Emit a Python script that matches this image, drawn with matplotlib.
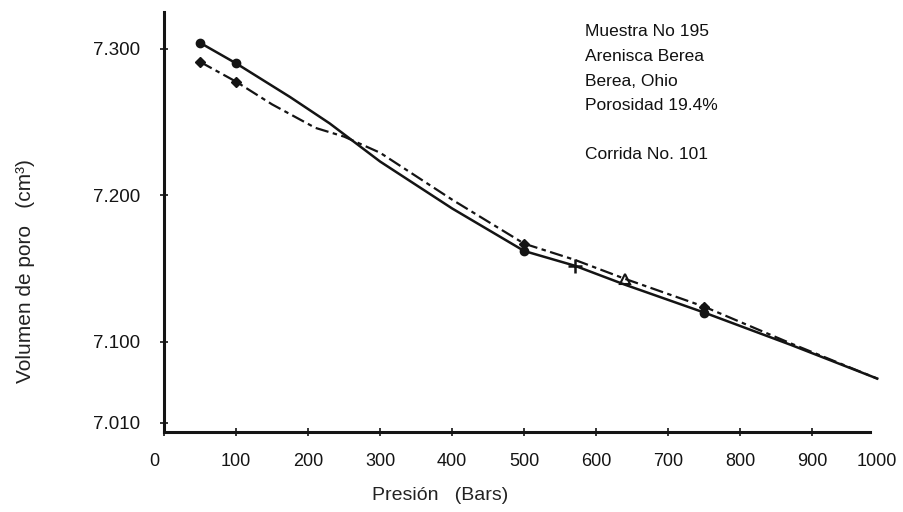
import matplotlib
matplotlib.use('Agg')
import matplotlib.pyplot as plt
import matplotlib.transforms as mtransforms

# datos (presion en bars, volumen de poro en cm3)
pres_a = [50, 100, 175, 230, 300, 400, 500, 570, 640, 750, 870, 990]
vol_a = [7.304, 7.290, 7.267, 7.249, 7.223, 7.191, 7.162, 7.152, 7.139, 7.120, 7.098, 7.075]

pres_b = [50, 100, 150, 210, 250, 300, 400, 500, 570, 640, 750, 870, 990]
vol_b = [7.291, 7.2775, 7.262, 7.246, 7.240, 7.229, 7.197, 7.167, 7.156, 7.143, 7.124, 7.099, 7.075]

xticks = [0, 100, 200, 300, 400, 500, 600, 700, 800, 900, 1000]
yticks = [7.045, 7.100, 7.200, 7.300]
ylabels = ['7.010', '7.100', '7.200', '7.300']

notas = ['Muestra No 195', 'Arenisca Berea', 'Berea, Ohio', 'Porosidad 19.4%', '', 'Corrida No. 101']

fig = plt.figure(figsize=(9.04, 5.12), dpi=100)
ax = fig.add_axes([0.1814, 0.1563, 0.797, 0.8203])

col = '#141414'
ax.plot(pres_a, vol_a, '-', color=col, lw=1.8, marker='o', ms=6,
        markevery=[0, 1, 6, 9])
ax.plot(pres_b, vol_b, color=col, lw=1.6, ls=(0, (6, 2, 2, 2)), marker='D', ms=5,
        markevery=[0, 1, 7, 10])
ax.plot([pres_a[7]], [vol_a[7]], '+', color=col, ms=10, mew=1.8)
ax.plot([pres_b[9]], [vol_b[9]], '^', color=col, ms=7, mfc='none', mew=1.5)

ax.set_xlim(0, 1000)
ax.set_ylim(7.0386, 7.325)
ax.spines['top'].set_visible(False)
ax.spines['right'].set_visible(False)
ax.spines['left'].set_linewidth(2.2)
ax.spines['bottom'].set_linewidth(2.2)
ax.spines['bottom'].set_bounds(0, 980)
ax.spines['left'].set_color(col)
ax.spines['bottom'].set_color(col)

ax.set_xticks(xticks)
ax.set_xticklabels([str(t) for t in xticks], fontfamily='Liberation Sans', fontsize=13)
ax.set_yticks(yticks)
ax.set_yticklabels(ylabels, fontfamily='Liberation Sans', fontsize=13.5)
ax.tick_params(axis='x', direction='inout', length=6, width=1.2, pad=12, colors=col)
ax.tick_params(axis='y', direction='inout', length=6, width=1.2, pad=14, colors=col)
ax.xaxis.get_major_ticks()[-1].tick1line.set_visible(False)

# etiquetas extremas algo desplazadas como en el original
lbls = ax.get_xticklabels()
lbls[-1].set_transform(lbls[-1].get_transform() +
                       mtransforms.ScaledTranslation(-8 / 100, 0, fig.dpi_scale_trans))
lbls[0].set_transform(lbls[0].get_transform() +
                      mtransforms.ScaledTranslation(-10 / 100, 0, fig.dpi_scale_trans))

fig.text(0.487, 0.033, 'Presión   (Bars)', fontfamily='Liberation Sans', fontsize=14,
         ha='center', va='center', color='#222')
fig.text(0.028, 0.47, 'Volumen de poro   (cm³)', fontfamily='Liberation Sans',
         fontsize=15, rotation=90, ha='center', va='center', color='#222')

for i, s in enumerate(notas):
    fig.text(585 / 904, 1 - (32 + 24.5 * i) / 512, s, fontfamily='Liberation Sans',
             fontsize=12.5, ha='left', va='center', color='#111')

fig.savefig('out.png', dpi=100)
